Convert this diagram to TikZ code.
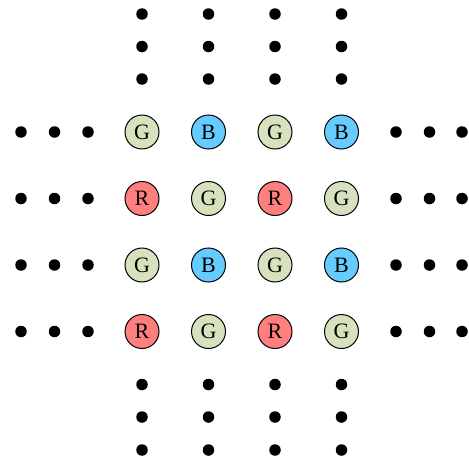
\documentclass[tikz,border=0pt]{standalone}
\usepackage{fontspec}
\setmainfont{Liberation Serif}
\definecolor{gfill}{HTML}{D6E2BD}
\definecolor{bfill}{HTML}{66CCFF}
\definecolor{rfill}{HTML}{FF7F7F}
\tikzset{
  cell/.style={circle, draw=black, line width=1pt, minimum size=34pt, inner sep=0pt, font=\fontsize{22}{22}\selectfont},
  gcell/.style={cell, fill=gfill},
  bcell/.style={cell, fill=bfill},
  rcell/.style={cell, fill=rfill},
  dotn/.style={circle, fill=black, minimum size=11.5pt, inner sep=0pt}
}
\begin{document}
\begin{tikzpicture}[x=1pt,y=-1pt]
\useasboundingbox (0,0) rectangle (469,463);
% grid
\def\xa{142}\def\xb{208.5}\def\xc{275}\def\xd{341.5}
\def\ya{132}\def\yb{198.5}\def\yc{265}\def\yd{331.5}
\node[gcell] (c11) at (\xa,\ya) {G};
\node[bcell] (c12) at (\xb,\ya) {B};
\node[gcell] (c13) at (\xc,\ya) {G};
\node[bcell] (c14) at (\xd,\ya) {B};
\node[rcell] (c21) at (\xa,\yb) {R};
\node[gcell] (c22) at (\xb,\yb) {G};
\node[rcell] (c23) at (\xc,\yb) {R};
\node[gcell] (c24) at (\xd,\yb) {G};
\node[gcell] (c31) at (\xa,\yc) {G};
\node[bcell] (c32) at (\xb,\yc) {B};
\node[gcell] (c33) at (\xc,\yc) {G};
\node[bcell] (c34) at (\xd,\yc) {B};
\node[rcell] (c41) at (\xa,\yd) {R};
\node[gcell] (c42) at (\xb,\yd) {G};
\node[rcell] (c43) at (\xc,\yd) {R};
\node[gcell] (c44) at (\xd,\yd) {G};
% top and bottom dots
\foreach \x [count=\i] in {\xa,\xb,\xc,\xd}{
  \foreach \y [count=\j] in {14,46.5,79}{
    \node[dotn] (t\i\j) at (\x,\y) {};
  }
  \foreach \y [count=\j] in {384.5,417,450}{
    \node[dotn] (b\i\j) at (\x,\y) {};
  }
}
% left and right dots
\foreach \y [count=\i] in {\ya,\yb,\yc,\yd}{
  \foreach \x [count=\j] in {21,54.5,88}{
    \node[dotn] (l\i\j) at (\x,\y) {};
  }
  \foreach \x [count=\j] in {396,429.5,462}{
    \node[dotn] (r\i\j) at (\x,\y) {};
  }
}
\end{tikzpicture}
\end{document}
